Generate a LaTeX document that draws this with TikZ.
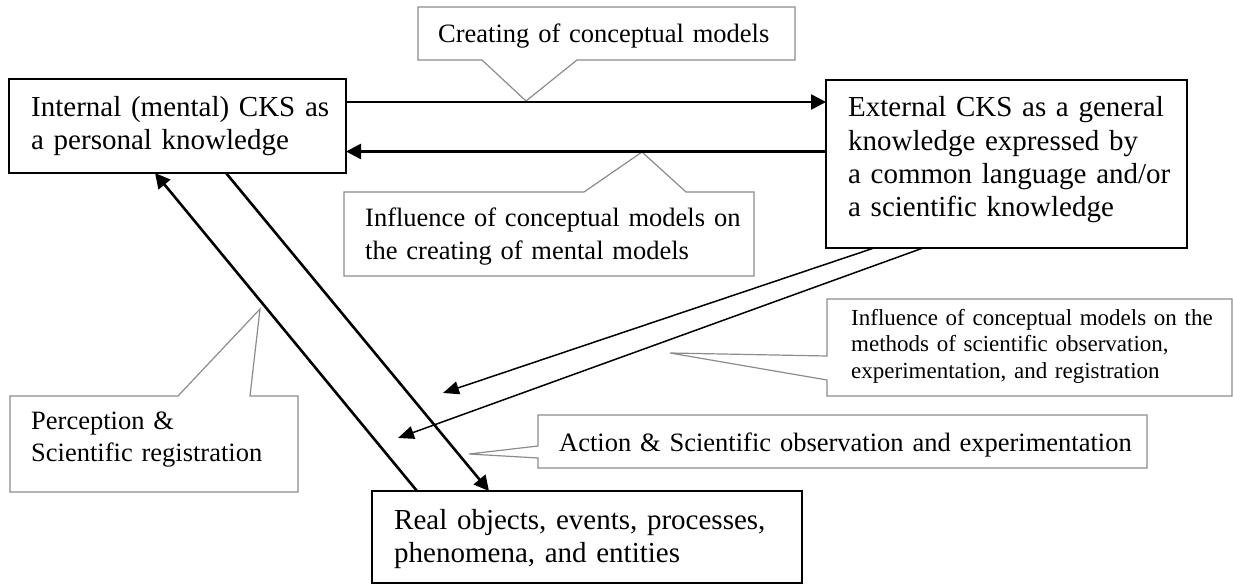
\documentclass[tikz,border=0pt]{standalone}
\usepackage{fontspec}
\setmainfont{Liberation Serif}
\usetikzlibrary{arrows.meta}
\definecolor{callgray}{RGB}{140,140,140}
\begin{document}
\begin{tikzpicture}[x=1pt,y=-1pt,
  box/.style={draw=black, line width=2.6pt, rectangle, inner sep=0pt, outer sep=0pt, anchor=north west},
  bigtext/.style={anchor=base west, inner sep=0pt, align=left, text width=#1, font=\fontsize{29}{33.3}\selectfont},
  calltext/.style={anchor=base west, inner sep=0pt, align=left, text width=#1, font=\fontsize{26.5}{32.5}\selectfont},
  smalltext/.style={anchor=base west, inner sep=0pt, align=left, text width=#1, font=\fontsize{23}{26.7}\selectfont},
  callout/.style={draw=callgray, line width=1.2pt, fill=white, line join=miter},
  thickarrow/.style={draw=black, line width=2.6pt, -{Triangle[length=15pt,width=15pt]}},
  thinarrow/.style={draw=black, line width=1.5pt, -{Triangle[length=16pt,width=13pt]}}
]
\useasboundingbox (0,0) rectangle (1233,585);

% callout shapes
\draw[callout] (418,7) -- (795,7) -- (795,60) -- (577,60) -- (526,101) -- (482,60) -- (418,60) -- cycle;
\draw[callout] (344,192) -- (584,192) -- (642,152) -- (686,192) -- (754,192) -- (754,276) -- (344,276) -- cycle;
\draw[callout] (10,396) -- (178,396) -- (260,309) -- (250,396) -- (298,396) -- (298,492) -- (10,492) -- cycle;
\draw[callout] (827,299) -- (1232,299) -- (1232,396) -- (827,396) -- (827,380) -- (670,353) -- (827,356) -- cycle;
\draw[callout] (538,415) -- (1147,415) -- (1147,468) -- (538,468) -- (538,458) -- (469,454) -- (538,446) -- cycle;

% callout texts
\node[calltext=360pt] (tcreate) at (438,43) {Creating of conceptual models};
\node[calltext=400pt] (tinfl) at (365,227) {Influence of conceptual models on\\the creating of mental models};
\node[calltext=280pt] (tperc) at (31,429) {Perception \&\\Scientific registration};
\node[calltext=600pt] (taction) at (559,451) {Action \& Scientific observation and experimentation};
\node[smalltext=390pt] (tmeth) at (851,325) {Influence of conceptual models on the\\methods of scientific observation,\\experimentation, and registration};

% boxes
\node[box, minimum width=337pt, minimum height=94pt] (int) at (9,79) {};
\node[box, minimum width=361pt, minimum height=168pt] (ext) at (826,80) {};
\node[box, minimum width=430pt, minimum height=92pt] (real) at (372,491) {};

\node[bigtext=320pt] (tint) at (31,116.7) {Internal (mental) CKS as\\a personal knowledge};
\node[bigtext=340pt] (text) at (848,117) {External CKS as a general\\knowledge expressed by\\a common language and/or\\a scientific knowledge};
\node[bigtext=420pt] (treal) at (394,529) {Real objects, events, processes,\\phenomena, and entities};

% helper coordinates
\coordinate (yA) at (0,102);
\coordinate (yB) at (0,151.5);
\coordinate (xUpS) at (417,0);
\coordinate (xUpE) at (155,0);
\coordinate (xDnS) at (226,0);
\coordinate (xDnE) at (489,0);
\coordinate (xM1) at (874,0);
\coordinate (xM2) at (923,0);
\coordinate (m1end) at (443,393);
\coordinate (m2end) at (398,438);

% connectors
\draw[thickarrow] (int.east |- yA) -- (ext.west |- yA);
\draw[thickarrow] (ext.west |- yB) -- (int.east |- yB);
\draw[thickarrow] (real.north -| xUpS) -- (int.south -| xUpE);
\draw[thickarrow] (int.south -| xDnS) -- (real.north -| xDnE);
\draw[thinarrow] (ext.south -| xM1) -- (m1end);
\draw[thinarrow] (ext.south -| xM2) -- (m2end);
\end{tikzpicture}
\end{document}
